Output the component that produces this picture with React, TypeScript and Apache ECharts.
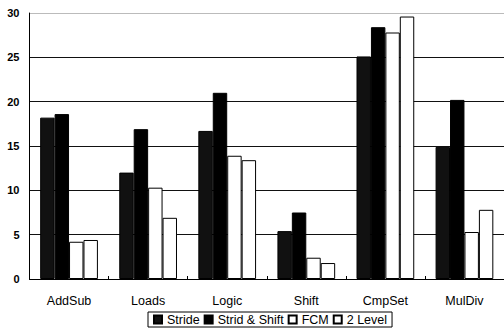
import React, { useEffect, useRef } from "react";
import * as echarts from "echarts";

const categories = ["AddSub", "Loads", "Logic", "Shift", "CmpSet", "MulDiv"];
const seriesNames = ["Stride", "Strid & Shift", "FCM", "2 Level"];
const stride = [18.2, 12.0, 16.7, 5.4, 25.1, 14.9];
const stridShift = [18.6, 16.9, 21.0, 7.5, 28.4, 20.2];
const fcm = [4.2, 10.3, 13.9, 2.4, 27.8, 5.3];
const twoLevel = [4.4, 6.9, 13.4, 1.8, 29.6, 7.8];
const yTicks = [0, 5, 10, 15, 20, 25, 30];

export default function App() {
  const ref = useRef<HTMLDivElement>(null);
  useEffect(() => {
    if (!ref.current) return;
    const chart = echarts.init(ref.current, null, { renderer: "svg" });
    const font = "Liberation Sans";
    const mk = (name: string, data: number[], fill: string) => ({
      name,
      type: "bar",
      data,
      barGap: "0%",
      barCategoryGap: "27%",
      itemStyle: { color: fill, borderColor: "#000", borderWidth: 1 },
    });
    chart.setOption({
      animation: false,
      backgroundColor: "#fff",
      grid: { left: 29.5, right: -3, top: 13, bottom: 51 },
      legend: {
        left: 148,
        top: 312,
        icon: "rect",
        itemWidth: 8,
        itemHeight: 8,
        itemGap: 4,
        padding: [1, 5],
        borderColor: "#000",
        borderWidth: 1,
        textStyle: { fontFamily: font, fontSize: 12.5, color: "#000" },
        data: seriesNames,
      },
      xAxis: {
        type: "category",
        data: categories,
        axisLine: { lineStyle: { color: "#000", width: 1 } },
        axisTick: { show: true, inside: true, length: 3, lineStyle: { color: "#000" } },
        axisLabel: { fontFamily: font, fontSize: 12.5, color: "#000", margin: 15 },
      },
      yAxis: {
        type: "value",
        min: yTicks[0],
        max: yTicks[yTicks.length - 1],
        interval: 5,
        axisLine: { show: true, lineStyle: { color: "#000", width: 1 } },
        axisTick: { show: false },
        axisLabel: {
          fontFamily: font,
          fontSize: 11,
          fontWeight: "bold",
          color: "#000",
          margin: 10,
        },
        splitLine: {
          show: true,
          lineStyle: {
            color: ["#000", "#111", "#111", "#111", "#111", "#111", "#bbb"],
            width: 1,
          },
        },
      },
      series: [
        mk(seriesNames[0], stride, "#111"),
        mk(seriesNames[1], stridShift, "#000"),
        mk(seriesNames[2], fcm, "#fff"),
        mk(seriesNames[3], twoLevel, "#fff"),
      ],
    });
    return () => chart.dispose();
  }, []);
  return (
    <div
      ref={ref}
      style={{ position: "fixed", left: 0, top: 0, width: 504, height: 330, background: "#fff" }}
    />
  );
}
